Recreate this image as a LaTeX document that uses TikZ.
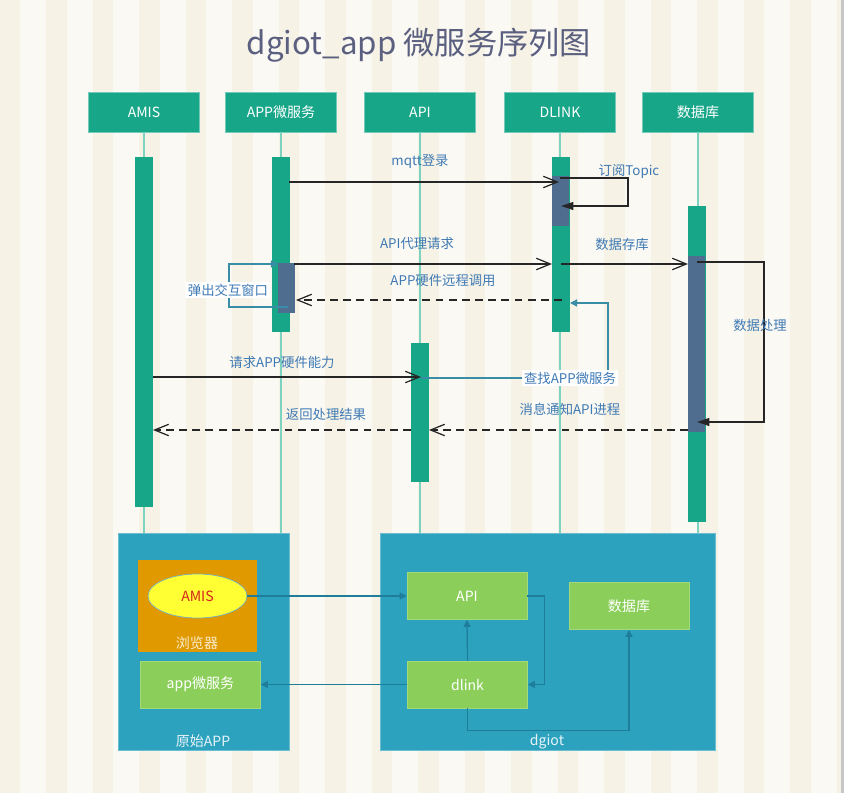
\documentclass[tikz,border=0pt]{standalone}
\usepackage{fontspec}
\setmainfont{Noto Sans CJK SC}
\usetikzlibrary{arrows.meta,shapes.geometric,positioning}

\definecolor{bgdark}{HTML}{F6F2E5}
\definecolor{bglight}{HTML}{FBF9F3}
\definecolor{headteal}{HTML}{18A689}
\definecolor{lifeteal}{HTML}{7ED3C0}
\definecolor{actdark}{HTML}{4F6D8F}
\definecolor{lbltxt}{HTML}{3F7AB4}
\definecolor{titletxt}{HTML}{5C6080}
\definecolor{loopteal}{HTML}{3A8DA6}
\definecolor{boxblue}{HTML}{2CA2BF}
\definecolor{boxorange}{HTML}{E09A00}
\definecolor{boxgreen}{HTML}{8BCF5A}
\definecolor{linkblue}{HTML}{1E7D9A}

\tikzset{
  headbox/.style={fill=headteal, draw=headteal!60!white, text=white, minimum width=2.22cm, minimum height=0.8cm, font=\fontsize{8}{10}\selectfont},
  lifeline/.style={draw=lifeteal, line width=0.6pt},
  msg/.style={draw=black!85, line width=0.7pt, -{Straight Barb[length=8pt,width=6.5pt]}},
  reply/.style={msg, dash pattern=on 4.5pt off 3pt},
  selfmsg/.style={draw=black!85, line width=0.7pt, -{Triangle[length=7pt,width=4.5pt]}},
  tealmsg/.style={draw=loopteal, line width=0.7pt, -{Triangle[length=4pt,width=4pt]}},
  lbl/.style={text=lbltxt, font=\fontsize{7.6}{9}\selectfont, inner sep=1pt},
  bigbox/.style={fill=boxblue, draw=boxblue!70!white, minimum height=4.34cm},
  gbox/.style={fill=boxgreen, draw=boxgreen!80!white, text=white, minimum width=2.4cm, minimum height=0.94cm, font=\fontsize{8}{10}\selectfont},
  boxtxt/.style={text=white!88!boxblue, font=\fontsize{8}{10}\selectfont, inner sep=1pt},
  link/.style={draw=linkblue, line width=0.7pt, -{Triangle[length=4pt,width=4pt]}}
}

\begin{document}
\begin{tikzpicture}[x=0.02cm,y=-0.02cm]
\useasboundingbox (0,0) rectangle (844,793);

% Background stripes
\fill[bgdark] (0,0) rectangle (844,793);
\foreach \i in {0,...,17}
{\fill[bglight] (20+46.5*\i,0) rectangle ++(26,793);}
\fill[black!22] (841,0) rectangle (844,793);

% Title
\node[text=titletxt, font=\fontsize{17.8}{20}\selectfont] (title) at (419,45) {dgiot\_app 微服务序列图};

% Heads and lifelines
\foreach \x/\nm/\txt in {144/amis/AMIS, 281/app/APP微服务, 420/api/API, 560/dlink/DLINK, 698/db/数据库}
{\node[headbox] (head\nm) at (\x,112) {\txt};
\draw[lifeline] (head\nm.south) -- ++(0,402);}

% Activation bars
\foreach \x/\ya/\yb in {144/157/507, 280.5/157/332, 420/343/482, 560.5/157/332, 696.5/206/522}
{\fill[headteal] (\x-9,\ya) rectangle (\x+9,\yb);}
\fill[actdark] (552,176) rectangle (569,226);
\fill[actdark] (278,263) rectangle (295,313);
\fill[actdark] (688,256) rectangle (705,432);

% mqtt login
\coordinate (mqttS) at (289,182);
\coordinate (mqttE) at (559,182);
\draw[msg] (mqttS) -- (mqttE);
\node[lbl] (mqttL) at (420,161) {mqtt登录};

% subscribe topic
\coordinate (subS) at (560,178);
\coordinate (subE) at (561,206);
\draw[selfmsg] (subS) -- ++(68,0) |- (subE);
\node[lbl] (subL) at (629,172) {订阅Topic};

% API proxy request
\coordinate (proxS) at (294,264);
\coordinate (proxE) at (552,264);
\draw[msg] (proxS) -- (proxE);
\node[lbl] (proxL) at (417,243) {API代理请求};

% store data
\coordinate (storeS) at (561,264);
\coordinate (storeE) at (688,264);
\draw[msg] (storeS) -- (storeE);
\node[lbl] (storeL) at (622,244) {数据存库};

% process data
\coordinate (procS) at (697,262);
\coordinate (procE) at (697,422);
\draw[selfmsg] (procS) -- ++(67,0) |- (procE);
\node[lbl] (procL) at (760,325) {数据处理};

% remote call
\coordinate (callS) at (562,300);
\coordinate (callE) at (296,300);
\draw[reply] (callS) -- (callE);
\node[lbl] (callL) at (443,280) {APP硬件远程调用};

% popup window
\coordinate (popS) at (288,307);
\coordinate (popE) at (278,264);
\draw[tealmsg] (popS) -- ++(-59,0) |- (popE);
\node[lbl, fill=white] (popL) at (228,290) {弹出交互窗口};

% request hardware
\coordinate (reqS) at (153,377);
\coordinate (reqE) at (421,377);
\draw[msg] (reqS) -- (reqE);
\node[lbl] (reqL) at (282,362) {请求APP硬件能力};

% look up micro service
\coordinate (findS) at (421,378);
\coordinate (findE) at (570,303);
\draw[tealmsg] (findS) -- ++(187,0) |- (findE);
\node[lbl, fill=white] (findL) at (570,378) {查找APP微服务};

% notify API
\coordinate (notS) at (688,430);
\coordinate (notE) at (429,430);
\draw[reply] (notS) -- (notE);
\node[lbl] (notL) at (570,409) {消息通知API进程};

% return result
\coordinate (retS) at (411,430);
\coordinate (retE) at (153,430);
\draw[reply] (retS) -- (retE);
\node[lbl] (retL) at (326,414) {返回处理结果};

% Original APP block
\node[bigbox, minimum width=3.42cm] (rawapp) at (203.5,641.5) {};
\node[boxtxt] (rawappL) at (203,741) {原始APP};
\node[fill=boxorange, minimum width=2.38cm, minimum height=1.84cm] (browser) at (197.5,606) {};
\node[boxtxt, text=white!80!boxorange] (browserL) at (197,643) {浏览器};
\node[ellipse, fill={rgb,255:red,255;green,255;blue,51}, draw=loopteal!70!white, minimum width=1.98cm, minimum height=0.88cm, inner sep=0pt, text={rgb,255:red,215;green,35;blue,30}, font=\fontsize{8}{10}\selectfont] (amis) at (197.5,596) {AMIS};
\node[gbox] (appsvc) at (200.5,684.5) {app微服务};

% dgiot block
\node[bigbox, minimum width=6.7cm] (dgiot) at (547.5,641.5) {};
\node[boxtxt] (dgiotL) at (547,742) {dgiot};
\node[gbox] (bapi) at (467,596) {API};
\node[gbox] (bdb) at (629,606) {数据库};
\node[gbox] (bdlink) at (467.5,684.5) {dlink};

% Block links
\draw[link] (amis.east) -- (bapi.west);
\draw[link] (bdlink.west) -- (appsvc.east);
\draw[link] (bdlink.north) -- (bapi.south);
\draw[link] (bapi.east) -- ++(17,0) |- (bdlink.east);
\draw[link] (bdlink.south) -- ++(0,22) -| (bdb.south);
\end{tikzpicture}
\end{document}
